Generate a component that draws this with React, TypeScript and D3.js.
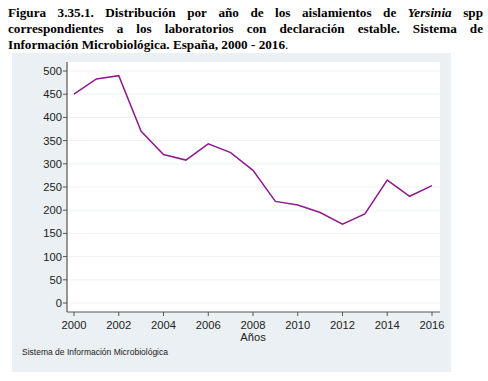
import React from "react";
import * as d3 from "d3";

const years = [2000, 2001, 2002, 2003, 2004, 2005, 2006, 2007, 2008, 2009, 2010, 2011, 2012, 2013, 2014, 2015, 2016];
const values = [450, 483, 490, 370, 320, 308, 343, 324, 286, 219, 211, 195, 170, 192, 265, 230, 253];
const yTicks = [0, 50, 100, 150, 200, 250, 300, 350, 400, 450, 500];
const xTicks = [2000, 2002, 2004, 2006, 2008, 2010, 2012, 2014, 2016];

const titleLines: { w: string; i?: boolean }[][] = [
  [{ w: "Figura" }, { w: "3.35.1." }, { w: "Distribución" }, { w: "por" }, { w: "año" }, { w: "de" }, { w: "los" }, { w: "aislamientos" }, { w: "de" }, { w: "Yersinia", i: true }, { w: "spp" }],
  [{ w: "correspondientes" }, { w: "a" }, { w: "los" }, { w: "laboratorios" }, { w: "con" }, { w: "declaración" }, { w: "estable." }, { w: "Sistema" }, { w: "de" }],
];
const titleLast = "Información Microbiológica. España, 2000 - 2016";

const TITLE_FONT = "'Liberation Serif', 'Times New Roman', serif";
const TITLE_SIZE = 13.2;

function measure(text: string, italic: boolean) {
  const c = document.createElement("canvas");
  const ctx = c.getContext("2d")!;
  ctx.font = `${italic ? "italic " : ""}bold ${TITLE_SIZE}px ${TITLE_FONT}`;
  return ctx.measureText(text).width;
}

export default function App() {
  const W = 488, H = 381;
  const plot = { left: 67, right: 440, top: 62, bottom: 312 };
  const x = d3.scaleLinear().domain([2000, 2016]).range([74, 432]);
  const y = d3.scaleLinear().domain([0, 500]).range([303, 71]);
  const line = d3.line<number>().x((_, i) => x(years[i])).y((d) => y(d));

  const L = 8, R = 483;
  const justified = titleLines.map((words) => {
    const ws = words.map((w) => measure(w.w, !!w.i));
    const total = ws.reduce((a, b) => a + b, 0);
    const gap = (R - L - total) / (words.length - 1);
    let cx = L;
    return words.map((w, k) => {
      const pos = cx;
      cx += ws[k] + gap;
      return { ...w, x: pos };
    });
  });

  const sans = "'Liberation Sans', Arial, sans-serif";

  return (
    <svg width={W} height={H} style={{ position: "absolute", left: 0, top: 0 }}>
      <rect x={0} y={0} width={W} height={H} fill="#fff" />
      {justified.map((ln, li) => (
        <text key={li} y={17 + li * 16} fontFamily={TITLE_FONT} fontSize={TITLE_SIZE} fontWeight="bold" fill="#000">
          {ln.map((w, k) => (
            <tspan key={k} x={w.x} fontStyle={w.i ? "italic" : "normal"}>{w.w}</tspan>
          ))}
        </text>
      ))}
      <text y={49} x={L} fontFamily={TITLE_FONT} fontSize={TITLE_SIZE} fill="#000">
        <tspan fontWeight="bold">{titleLast}</tspan>
        <tspan>.</tspan>
      </text>

      <rect x={12} y={53} width={439} height={319} fill="#eaf0f3" />
      <rect x={plot.left} y={plot.top} width={plot.right - plot.left} height={plot.bottom - plot.top} fill="#fff" />
      {yTicks.map((t) => (
        <line key={t} x1={plot.left} x2={plot.right} y1={y(t)} y2={y(t)} stroke="#eef2f4" strokeWidth={1} />
      ))}
      <path d={line(values)!} fill="none" stroke="#8e1b8e" strokeWidth={1.5} strokeLinejoin="miter" />
      <line x1={plot.left} x2={plot.left} y1={plot.top} y2={plot.bottom} stroke="#555" strokeWidth={1.2} />
      <line x1={plot.left} x2={plot.right} y1={plot.bottom} y2={plot.bottom} stroke="#555" strokeWidth={1.2} />
      {yTicks.map((t) => (
        <g key={t}>
          <line x1={plot.left - 4} x2={plot.left} y1={y(t)} y2={y(t)} stroke="#555" />
          <text x={plot.left - 5} y={y(t)} dy="0.35em" textAnchor="end" fontFamily={sans} fontSize={11.2} fill="#222">{t}</text>
        </g>
      ))}
      {xTicks.map((t) => (
        <g key={t}>
          <line x1={x(t)} x2={x(t)} y1={plot.bottom} y2={plot.bottom + 4} stroke="#555" />
          <text x={x(t)} y={329} textAnchor="middle" fontFamily={sans} fontSize={11.2} fill="#222">{t}</text>
        </g>
      ))}
      <text x={x(2008)} y={341} textAnchor="middle" fontFamily={sans} fontSize={11.2} fill="#222">Años</text>
      <text x={22} y={355} fontFamily={sans} fontSize={8.5} fill="#222">Sistema de Información Microbiológica</text>
    </svg>
  );
}
